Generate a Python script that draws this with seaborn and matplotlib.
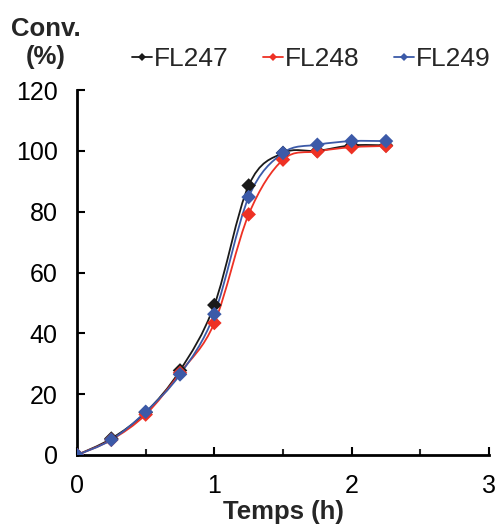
import numpy as np
import pandas as pd
import seaborn as sns
import matplotlib
matplotlib.use("Agg")
import matplotlib.pyplot as plt
from matplotlib.path import Path
from matplotlib.patches import PathPatch
from matplotlib.lines import Line2D

# ---- data ----
time_h = [0, 0.25, 0.5, 0.75, 1.0, 1.25, 1.5, 1.75, 2.0, 2.25]
fl247 = [0, 5.4, 14.0, 27.8, 49.3, 88.6, 99.3, 100.0, 101.8, 101.8]
fl248 = [0, 5.0, 13.3, 27.0, 43.4, 79.1, 97.1, 99.8, 101.2, 101.6]
fl249 = [0, 5.0, 14.2, 26.5, 46.3, 84.8, 99.3, 102.0, 103.2, 103.2]
series_names = ["FL247", "FL248", "FL249"]
x_ticks = [0, 1, 2, 3]
y_ticks = [0, 20, 40, 60, 80, 100, 120]

colors = {"FL247": "#1a1a1a", "FL248": "#ee3124", "FL249": "#3c5aa8"}

df = pd.DataFrame({
    "Temps": time_h * 3,
    "Conv": fl247 + fl248 + fl249,
    "Serie": [n for n in series_names for _ in time_h],
})

sns.set_style("ticks")
plt.rcParams["font.family"] = ["Liberation Sans", "DejaVu Sans"]

fig = plt.figure(figsize=(4.97, 5.29), dpi=100)
ax = fig.add_axes([77 / 497, 1 - 455 / 529, (489 - 77) / 497, (455 - 90) / 529])


def smooth_path(xs, ys):
    """Excel-like smoothed line: cubic Bezier segments through the data points."""
    pts = np.column_stack([xs, ys]).astype(float)
    n = len(pts)
    verts = [pts[0]]
    codes = [Path.MOVETO]
    for i in range(n - 1):
        p0 = pts[i - 1] if i > 0 else pts[i]
        p1 = pts[i]
        p2 = pts[i + 1]
        p3 = pts[i + 2] if i + 2 < n else pts[i + 1]
        c1 = p1 + (p2 - p0) / 6.0
        c2 = p2 - (p3 - p1) / 6.0
        verts += [c1, c2, p2]
        codes += [Path.CURVE4] * 3
    return Path(verts, codes)


for name in series_names:
    sub = df[df["Serie"] == name]
    ax.add_patch(PathPatch(smooth_path(sub["Temps"], sub["Conv"]),
                           facecolor="none", edgecolor=colors[name], lw=1.3,
                           transform=ax.transData, zorder=2))

sns.scatterplot(data=df, x="Temps", y="Conv", hue="Serie", palette=colors,
                marker="D", s=55, edgecolor="none", legend=False, ax=ax, zorder=3)

ax.set_xlim(0, 3)
ax.set_ylim(0, 120)
ax.set_xticks(x_ticks)
ax.set_xticks([0.5, 1.5, 2.5], minor=True)
ax.set_yticks(y_ticks)
ax.set_xticklabels([str(v) for v in x_ticks])
ax.set_yticklabels([str(v) for v in y_ticks])
for s in ["top", "right"]:
    ax.spines[s].set_visible(False)
for s in ["left", "bottom"]:
    ax.spines[s].set_linewidth(2.0)
    ax.spines[s].set_color("black")
ax.tick_params(axis="both", which="major", direction="in", length=6, width=1.5,
               labelsize=18, pad=14, colors="black")
ax.tick_params(axis="x", which="minor", direction="in", length=4, width=1.5)
ax.set_xlabel("Temps (h)", fontsize=18.5, fontweight="bold", labelpad=1)
ax.set_ylabel("")
ax.set_facecolor("white")
ax.grid(False)

fig.text(46 / 497, 1 - 43 / 529, "Conv.\n(%)", ha="center", va="center",
         fontsize=18.5, fontweight="bold", linespacing=1.25)

handles = [Line2D([], [], color=colors[n], lw=1.3, marker="D", markersize=4.5,
                  markeredgewidth=0) for n in series_names]
fig.legend(handles, series_names, loc="center left",
           bbox_to_anchor=(132 / 497, 1 - 59 / 529), ncol=3, frameon=False,
           fontsize=19, handlelength=0.75, handletextpad=0.08,
           columnspacing=1.3, borderpad=0, borderaxespad=0)

fig.savefig("out.png", dpi=100, facecolor="white")
